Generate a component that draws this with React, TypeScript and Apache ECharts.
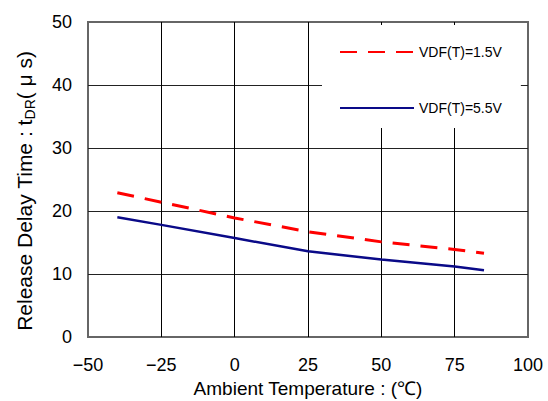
import React, { useEffect, useRef } from "react";
import * as echarts from "echarts";

const temps = [-40, -25, 0, 25, 50, 75, 85];
const red15 = [22.9, 21.4, 18.9, 16.7, 15.1, 13.9, 13.3];
const blue55 = [19.0, 17.8, 15.7, 13.6, 12.3, 11.2, 10.6];
const seriesNames = ["VDF(T)=1.5V", "VDF(T)=5.5V"];
const xTicks = { min: -50, max: 100, interval: 25 };
const yTicks = { min: 0, max: 50, interval: 10 };

const FONT = "'Liberation Sans', Arial, sans-serif";

export default function App() {
  const ref = useRef<HTMLDivElement>(null);
  useEffect(() => {
    document.body.style.margin = "0";
    if (!ref.current) return;
    const chart = echarts.init(ref.current, null, { renderer: "svg" });
    const pairs = (ys: number[]) => temps.map((t, i) => [t, ys[i]]);
    chart.setOption({
      animation: false,
      backgroundColor: "#fff",
      textStyle: { fontFamily: FONT },
      grid: {
        left: 88,
        right: 20,
        top: 22,
        bottom: 64,
        outerBoundsMode: "none",
        containLabel: false,
        show: true,
        borderColor: "#666",
        borderWidth: 2,
        backgroundColor: "transparent",
      },
      legend: {
        orient: "vertical",
        left: 322,
        top: 25,
        padding: [20, 19, 13, 17],
        backgroundColor: "#fff",
        itemWidth: 74,
        itemHeight: 14,
        itemGap: 42,
        itemStyle: { opacity: 0 },
        textStyle: { fontSize: 14, color: "#000", fontFamily: FONT },
        data: seriesNames,
      },
      xAxis: {
        type: "value",
        min: xTicks.min,
        max: xTicks.max,
        interval: xTicks.interval,
        name: "Ambient Temperature : (℃)",
        nameLocation: "middle",
        nameGap: 42,
        nameTextStyle: { fontSize: 19, color: "#000", fontFamily: FONT },
        axisLine: { show: false },
        axisTick: { show: false },
        axisLabel: {
          fontSize: 18,
          color: "#000",
          margin: 19,
          formatter: (v: number) => String(v).replace("-", "−"),
        },
        splitLine: {
          show: true,
          showMinLine: false,
          showMaxLine: false,
          lineStyle: { color: "#000", width: 1 },
        },
      },
      yAxis: {
        type: "value",
        min: yTicks.min,
        max: yTicks.max,
        interval: yTicks.interval,
        axisLine: { show: false },
        axisTick: { show: false },
        axisLabel: { fontSize: 18, color: "#000", margin: 16 },
        splitLine: {
          show: true,
          showMinLine: false,
          showMaxLine: false,
          lineStyle: { color: "#222", width: 1 },
        },
      },
      graphic: [
        {
          type: "text",
          x: 24,
          y: 191,
          rotation: Math.PI / 2,
          style: {
            text: "{n|Release Delay Time : t}{s|DR}{n|( μ s)}",
            align: "center",
            verticalAlign: "middle",
            fill: "#000",
            rich: {
              n: { fontSize: 21, lineHeight: 25, fontFamily: FONT, fill: "#000" },
              s: { fontSize: 14, lineHeight: 14, verticalAlign: "bottom", fontFamily: FONT, fill: "#000" },
            },
          },
        },
      ],
      series: [
        {
          name: seriesNames[0],
          type: "line",
          symbol: "none",
          data: pairs(red15),
          lineStyle: { color: "#ff0000", width: 3, type: [17, 11] },
          itemStyle: { color: "#ff0000" },
          z: 3,
        },
        {
          name: seriesNames[1],
          type: "line",
          symbol: "none",
          data: pairs(blue55),
          lineStyle: { color: "#0a0a88", width: 2.5 },
          itemStyle: { color: "#0a0a88" },
          z: 3,
        },
      ],
    });
    return () => chart.dispose();
  }, []);
  return <div ref={ref} style={{ width: 548, height: 401 }} />;
}
